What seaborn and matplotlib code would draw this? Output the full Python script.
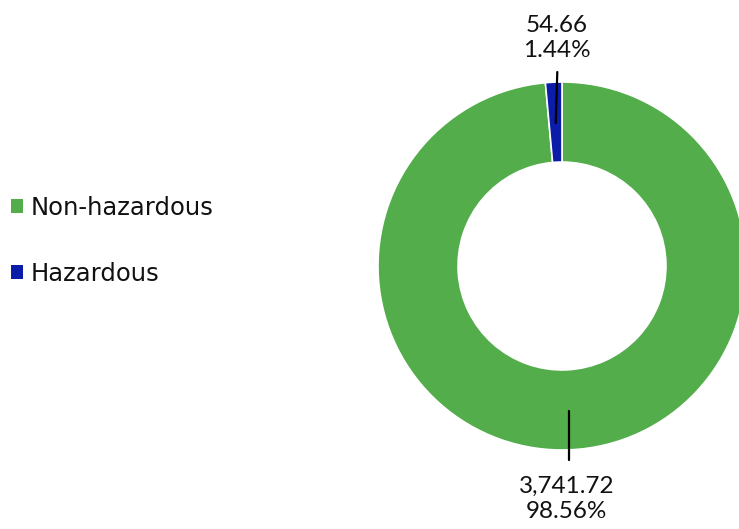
import matplotlib
matplotlib.use("Agg")
import matplotlib.pyplot as plt
import seaborn as sns
from matplotlib.patches import Patch

categories = ["Non-hazardous", "Hazardous"]
values = [3741.72, 54.66]
value_labels = ["3,741.72", "54.66"]
pct_labels = ["98.56%", "1.44%"]
colors = ["#52ad4a", "#0a1ca8"]

sns.set_theme(style="white")
plt.rcParams["font.family"] = ["Lato", "DejaVu Sans"]

W, H = 739, 529
fig = plt.figure(figsize=(W / 100, H / 100), dpi=100)
cx, cy, R = 562, 266, 184
ax = fig.add_axes([(cx - R) / W, (H - cy - R) / H, 2 * R / W, 2 * R / H])
ax.pie(values, colors=colors, startangle=90, counterclock=False, radius=1,
       wedgeprops=dict(width=0.435, edgecolor="white", linewidth=1.2))
ax.set_xlim(-1, 1)
ax.set_ylim(-1, 1)
ax.set_aspect("equal")
ax.axis("off")

def px(x, y):
    return ((x - cx) / R, (cy - y) / R)

# Hazardous label
x0, y0 = px(557.3, 72); x1, y1 = px(555.7, 123)
ax.plot([x0, x1], [y0, y1], color="black", lw=1.6, clip_on=False)
tx, ty = px(557, 38)
ax.text(tx, ty, value_labels[1] + "\n" + pct_labels[1], ha="center", va="center",
        fontsize=17.5, fontweight="normal", color="#111111", linespacing=1.27,
        clip_on=False)
# Non-hazardous label
x0, y0 = px(569, 411); x1, y1 = px(569, 460)
ax.plot([x0, x1], [y0, y1], color="black", lw=1.6, clip_on=False)
tx, ty = px(566.5, 499)
ax.text(tx, ty, value_labels[0] + "\n" + pct_labels[0], ha="center", va="center",
        fontsize=17.5, fontweight="normal", color="#111111", linespacing=1.27,
        clip_on=False)

handles = [Patch(facecolor=c, edgecolor="none") for c in colors]
leg = fig.legend(handles, categories, loc="center left", bbox_to_anchor=(11 / W, 0.5449),
                 frameon=False, prop=dict(family="DejaVu Sans", size=17.5),
                 handlelength=0.49, handleheight=0.49, borderpad=0,
                 handletextpad=0.3, labelspacing=1.72, borderaxespad=0)
for t in leg.get_texts():
    t.set_color("#111111")

fig.savefig("out.png", dpi=100)
